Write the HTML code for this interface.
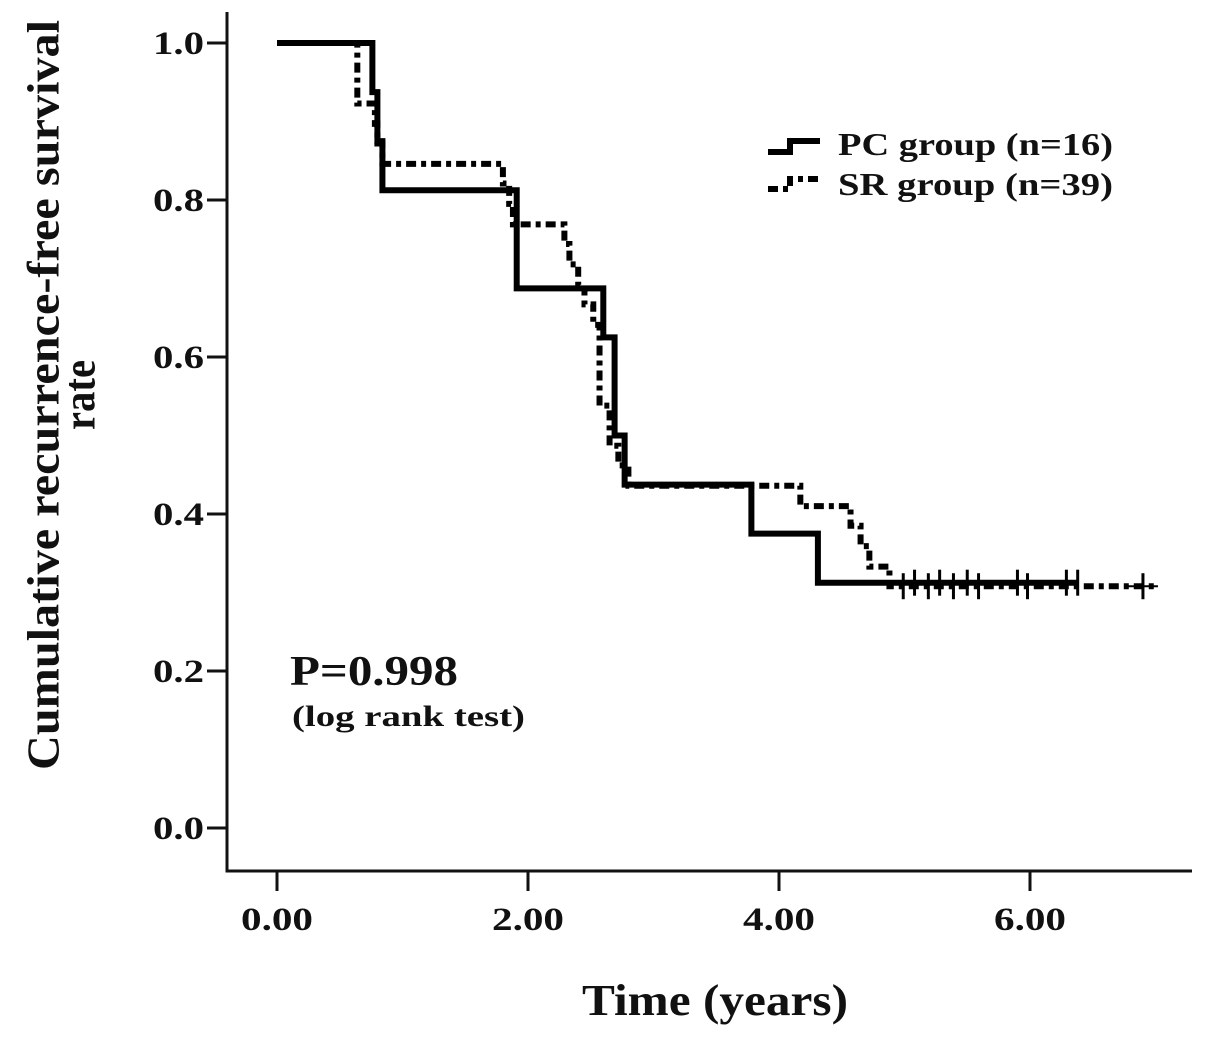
<!DOCTYPE html>
<html><head><meta charset="utf-8"><style>
html,body{margin:0;padding:0;background:#fff;}
svg{display:block;}
text{font-family:"Liberation Serif",serif;font-weight:bold;fill:#111;}
</style></head><body>
<svg id="chart" width="1205" height="1039" viewBox="0 0 1205 1039">
<g id="axes"></g>
<g id="series"></g>
<text x="48" y="395" font-size="45" text-anchor="middle" textLength="750" lengthAdjust="spacingAndGlyphs" transform="rotate(-90 48 395)" dominant-baseline="middle">Cumulative recurrence-free survival</text>
<text x="84" y="395" font-size="45" text-anchor="middle" textLength="70" lengthAdjust="spacingAndGlyphs" transform="rotate(-90 84 395)" dominant-baseline="middle">rate</text>
<text x="715" y="1015" font-size="44" text-anchor="middle" textLength="266" lengthAdjust="spacingAndGlyphs">Time (years)</text>
<text x="290" y="685" font-size="42" textLength="168" lengthAdjust="spacingAndGlyphs">P=0.998</text>
<text x="292" y="726" font-size="30" textLength="233" lengthAdjust="spacingAndGlyphs">(log rank test)</text>
<g>
<path d="M768 152 H790 V141 H820" fill="none" stroke="#000" stroke-width="6"/>
<path d="M768 189 H790 V179 H820" fill="none" stroke="#000" stroke-width="6" stroke-dasharray="10,5,5,5"/>
<text x="838" y="155" font-size="32" textLength="275" lengthAdjust="spacingAndGlyphs">PC group (n=16)</text>
<text x="838" y="195" font-size="32" textLength="275" lengthAdjust="spacingAndGlyphs">SR group (n=39)</text>
</g>
</svg>
<script>
const xTicks=[0,2,4,6];
const xTickLabels=["0.00","2.00","4.00","6.00"];
const yTicks=[0,0.2,0.4,0.6,0.8,1.0];
const yTickLabels=["0.0","0.2","0.4","0.6","0.8","1.0"];
const pcTimes=[0.76,0.80,0.84,1.91,2.60,2.69,2.77,3.78,4.31];
const pcValues=[0.9375,0.875,0.8125,0.6875,0.625,0.5,0.4375,0.375,0.3125];
const pcEnd=6.38;
const pcCensor=[5.08,5.28,5.50,5.90,6.29,6.38];
const srTimes=[0.64,0.78,0.80,0.84,1.80,1.85,1.88,2.29,2.33,2.40,2.45,2.52,2.57,2.65,2.72,2.80,4.17,4.57,4.65,4.72,4.88];
const srValues=[0.923,0.897,0.872,0.846,0.821,0.795,0.769,0.744,0.718,0.692,0.667,0.641,0.538,0.487,0.462,0.436,0.41,0.385,0.359,0.333,0.308];
const srEnd=7.0;
const srCensor=[4.99,5.19,5.39,5.59,5.98,6.90];

const X=t=>277+125.5*t, Y=v=>828-785*v;
const NS="http://www.w3.org/2000/svg";
const axes=document.getElementById('axes'), series=document.getElementById('series');
function mk(tag,attrs,parent){const e=document.createElementNS(NS,tag);for(const k in attrs)e.setAttribute(k,attrs[k]);parent.appendChild(e);return e;}
let e=mk('path',{d:'M227 12 V871 H1192',fill:'none',stroke:'#111','stroke-width':3},axes);


xTicks.forEach((t,i)=>{
 let l=mk('line',{x1:X(t),x2:X(t),y1:871,y2:891,stroke:'#111','stroke-width':3},axes);
 
 
 let tx=mk('text',{x:X(t),y:930,'font-size':33,'text-anchor':'middle',textLength:72,lengthAdjust:'spacingAndGlyphs'},axes);tx.textContent=xTickLabels[i];
 
 
});
yTicks.forEach((v,i)=>{
 let l=mk('line',{x1:207,x2:227,y1:Y(v),y2:Y(v),stroke:'#111','stroke-width':3},axes);
 
 
 let tx=mk('text',{x:204,y:Y(v)+11,'font-size':33,'text-anchor':'end',textLength:51,lengthAdjust:'spacingAndGlyphs'},axes);tx.textContent=yTickLabels[i];
 
 
});
function stepPath(times,vals,end){let d='M'+X(0)+' '+Y(1);times.forEach((t,i)=>{d+=' H'+X(t)+' V'+Y(vals[i]);});d+=' H'+X(end);return d;}
function censor(ts,vals,times,name){ts.forEach(t=>{let v=1;times.forEach((tt,i)=>{if(tt<=t)v=vals[i];});
 let c=mk('path',{d:`M${X(t)} ${Y(v)-13} V${Y(v)+13}`,stroke:'#000','stroke-width':3},series);
 
 });}
let sr=mk('path',{d:stepPath(srTimes,srValues,srEnd),fill:'none',stroke:'#000','stroke-width':6,'stroke-dasharray':'10,5,5,5'},series);


let pc=mk('path',{d:stepPath(pcTimes,pcValues,pcEnd),fill:'none',stroke:'#000','stroke-width':6},series);


censor(srCensor,srValues,srTimes,'sr-censor-mark');
censor(pcCensor,pcValues,pcTimes,'pc-censor-mark');
let hl=mk('path',{d:`M${X(6.9)-15} ${Y(0.308)} H${X(6.9)+15}`,stroke:'#000','stroke-width':2},series);


</script>
</body></html>
